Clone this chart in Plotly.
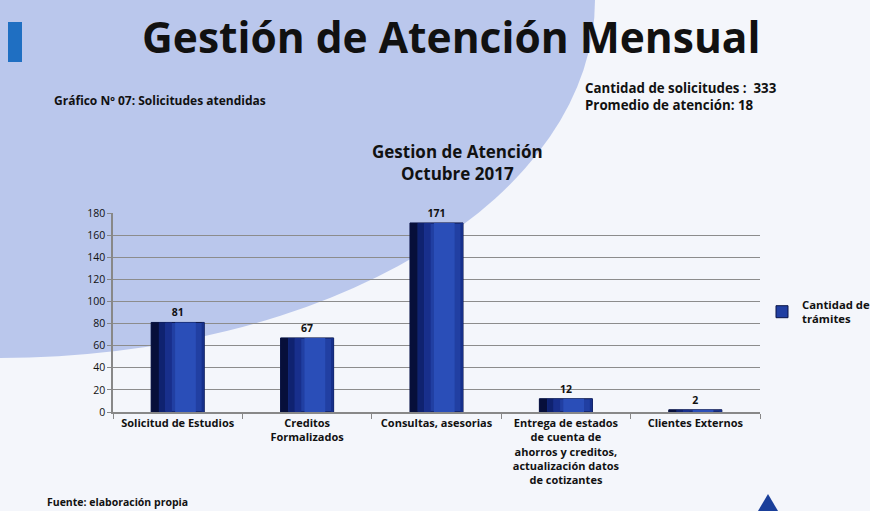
import plotly.graph_objects as go

W, H = 870, 511

categorias = [
    "Solicitud de Estudios",
    "Creditos<br>Formalizados",
    "Consultas, asesorias",
    "Entrega de estados<br>de cuenta de<br>ahorros y creditos,<br>actualización datos<br>de cotizantes",
    "Clientes Externos",
]
tramites = [81, 67, 171, 12, 2]
y_ticks = [0, 20, 40, 60, 80, 100, 120, 140, 160, 180]

FONT = "'Open Sans', Lato, sans-serif"


def px(x, y):
    # pixel position -> paper coords
    return x / W, 1 - y / H


fig = go.Figure()
# base bar carries the legend entry and value labels
fig.add_trace(go.Bar(
    x=categorias, y=tramites, name="<b>Cantidad de<br>trámites</b>",
    marker=dict(color="#213fa2", line=dict(color="#0a1548", width=1)),
    width=0.41, offset=-0.205,
    text=[f"<b>{v}</b>" for v in tramites], textposition="outside",
    textfont=dict(size=10.5, color="#111", family=FONT),
    cliponaxis=False,
))
# strips on top to fake the cylinder shading (dark left edge -> bright middle)
for off, wd, col in [(-0.205, 0.06, "#070f3a"), (-0.145, 0.05, "#0f2270"),
                     (-0.095, 0.05, "#182f8c"), (-0.02, 0.16, "#2a4eb8"),
                     (0.185, 0.02, "#16308a")]:
    fig.add_trace(go.Bar(
        x=categorias, y=tramites, width=wd, offset=off, showlegend=False,
        marker=dict(color=col, line_width=0), hoverinfo="skip",
    ))

shapes = [
    # large light-blue ellipse in the slide background
    dict(type="circle", xref="paper", yref="paper",
         x0=-595 / W, x1=595 / W, y0=1 + 358 / H, y1=1 - 358 / H,
         fillcolor="#bac7ec", line_width=0, layer="below"),
    # blue accent bar at the left of the title
    dict(type="rect", xref="paper", yref="paper",
         x0=8 / W, x1=22 / W, y0=1 - 62 / H, y1=1 - 22 / H,
         fillcolor="#1f6fc2", line_width=0, layer="below"),
    # logo fragment bottom right
    dict(type="path", xref="paper", yref="paper",
         path=f"M {758/W} {1-511/H} L {768/W} {1-494/H} L {778/W} {1-511/H} Z",
         fillcolor="#1a3f9a", line_width=0),
]

annotations = []


def note(x, y, text, size, xanchor="left", align="left"):
    ax, ay = px(x, y)
    annotations.append(dict(
        x=ax, y=ay, xref="paper", yref="paper", text=text, showarrow=False,
        xanchor=xanchor, yanchor="middle", align=align,
        font=dict(size=size, color="#111", family=FONT),
    ))


note(452, 37, "<b>Gestión de Atención Mensual</b>", 42.5, xanchor="center", align="center")
note(52, 100, "<b>Gráfico Nº 07: Solicitudes atendidas</b>", 12)
note(583, 96, "<b>Cantidad de solicitudes :  333<br>Promedio de atención: 18</b>", 13.3)
note(457, 162, "<b>Gestion de Atención<br>Octubre 2017</b>", 17, xanchor="center", align="center")
note(45, 502, "<b>Fuente: elaboración propia</b>", 10.5)

fig.update_layout(
    width=W, height=H,
    margin=dict(l=0, r=0, t=0, b=0, autoexpand=False),
    paper_bgcolor="#f4f6fb", plot_bgcolor="rgba(0,0,0,0)",
    font=dict(family=FONT, size=10, color="#111"),
    shapes=shapes, annotations=annotations,
    showlegend=True, barmode="overlay",
    legend=dict(x=762 / W, y=1 - 312 / H, xanchor="left", yanchor="middle",
                bgcolor="rgba(0,0,0,0)", font=dict(size=11.3, color="#111", family=FONT),
                itemwidth=30, tracegroupgap=0),
)
fig.update_xaxes(
    domain=[113 / W, 760 / W], automargin=False,
    showline=True, linecolor="#888", linewidth=1.5,
    ticks="outside", tickson="boundaries", ticklen=5, tickcolor="#888",
    tickfont=dict(size=11, family=FONT, color="#111"),
    tickprefix="<b>", ticksuffix="</b>",
)
fig.update_yaxes(
    domain=[1 - 412 / H, 1 - 213 / H], automargin=False,
    range=[0, 180], tickvals=y_ticks,
    showgrid=True, gridcolor="#8c8c8c", gridwidth=1,
    showline=True, linecolor="#888", linewidth=1.5,
    ticks="outside", ticklen=4, tickcolor="#888",
    tickfont=dict(size=10.5, family=FONT, color="#111"),
    tickprefix="<b>", ticksuffix="</b>", zeroline=False,
)

fig.write_html(
    "out.html",
    config={"displayModeBar": False},
    post_script="document.body.style.margin='0';document.body.style.overflow='hidden';",
)
